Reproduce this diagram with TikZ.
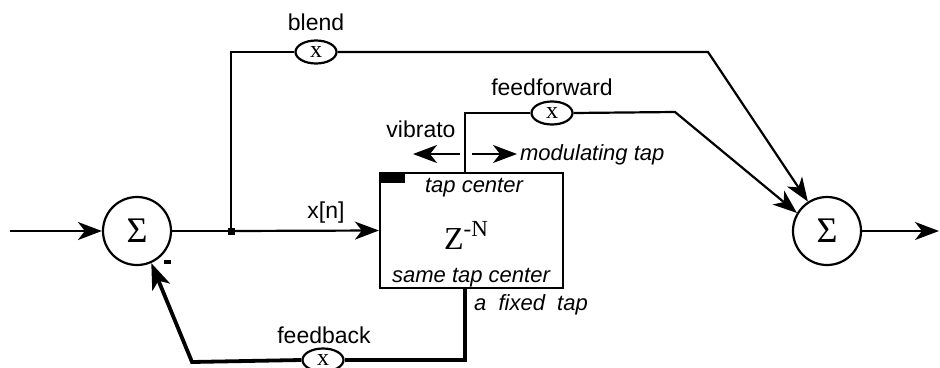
\documentclass[tikz,border=0pt]{standalone}
\usepackage{fontspec}
\setmainfont{Liberation Sans}
\newfontfamily\seriffam{Liberation Serif}
\usetikzlibrary{arrows.meta,shapes.geometric}
\begin{document}
\begin{tikzpicture}[x=1pt,y=-1pt,
  line width=2.2pt,
  arr/.style={-{Stealth[length=24pt,width=18pt,inset=7pt]}},
  sumnode/.style={circle,draw,line width=2.2pt,minimum size=68pt,inner sep=0pt,font=\seriffam\fontsize{36}{36}\selectfont},
  mult/.style={ellipse,draw,line width=2.2pt,minimum width=41pt,minimum height=23pt,inner sep=0pt,font=\seriffam\fontsize{24}{24}\selectfont,fill=white},
  lbl/.style={font=\fontsize{23}{23}\selectfont,inner sep=0pt},
  ilbl/.style={font=\itshape\fontsize{22}{22}\selectfont,inner sep=0pt}]
\useasboundingbox (0,0) rectangle (940,367);
% nodes
\node[sumnode] (s1) at (137,231) {Σ};
\node[sumnode] (s2) at (827,231) {Σ};
\node[draw,line width=2.2pt,minimum width=183pt,minimum height=115pt,inner sep=0pt] (box) at (471.5,230.5) {};
\node[fill,inner sep=0pt,minimum width=25pt,minimum height=10pt,anchor=north west] (blk) at (box.north west) {};
\node[fill,inner sep=0pt,minimum size=7pt] (J) at (231,231) {};
\node[mult] (mb) at (316,52) {x};
\node[mult] (mf) at (552,113) {x};
\node[mult] (mfb) at (323,360) {x};
% coordinates
\coordinate (in) at (10,231);
\coordinate (out) at (939,231);
\coordinate (tt) at (465,173);
\coordinate (tb) at (465,288);
\coordinate (bc) at (708,52);
\coordinate (fc) at (675,112);
\coordinate (fbc) at (192,362);
\coordinate (va) at (460,154);
\coordinate (vb) at (413,154);
\coordinate (ma) at (472,154);
\coordinate (mb2) at (517,154);
% connectors
\draw[arr] (in) -- (s1.west);
\draw (s1.east) -- (J.center);
\draw[arr] (J.center) -- (box.west);
\draw (J.center) |- (mb.west);
\draw[arr] (mb.east) -- (bc) -- (s2.123);
\draw (tt) |- (mf.west);
\draw[arr] (mf.east) -- (fc) -- (s2.149);
\draw[arr] (s2.east) -- (out);
\draw[arr] (va) -- (vb);
\draw[arr] (ma) -- (mb2);
\draw[line width=3.8pt] (tb) |- (mfb.east);
\draw[line width=3.8pt,-{Stealth[length=26pt,width=19pt,inset=7pt]}] (mfb.west) -- (fbc) -- (s1.-66);
% labels
\node[lbl,anchor=base] (lb) at (316,30) {blend};
\node[lbl,anchor=base] (lf) at (552,95) {feedforward};
\node[lbl,anchor=base] (lv) at (421,137) {vibrato};
\node[ilbl,anchor=base west] (lm) at (519,160) {modulating tap};
\node[ilbl,anchor=base] (ltc) at (474,192) {tap center};
\node[ilbl,anchor=base] (lstc) at (471,282) {same tap center};
\node[ilbl,anchor=base west] (lft) at (473,310) {a\ \ fixed\ \ tap};
\node[lbl,anchor=base] (lx) at (326,218) {x[n]};
\node[lbl,anchor=base] (lfb) at (324,343) {feedback};
\node[anchor=base west,inner sep=0pt,font=\seriffam\fontsize{32}{32}\selectfont] (lz) at (443,249) {Z\raisebox{13pt}{\fontsize{23}{23}\selectfont -N}};
\node[fill,inner sep=0pt,minimum width=7pt,minimum height=4pt] (minus) at (167,262) {};
\end{tikzpicture}
\end{document}
